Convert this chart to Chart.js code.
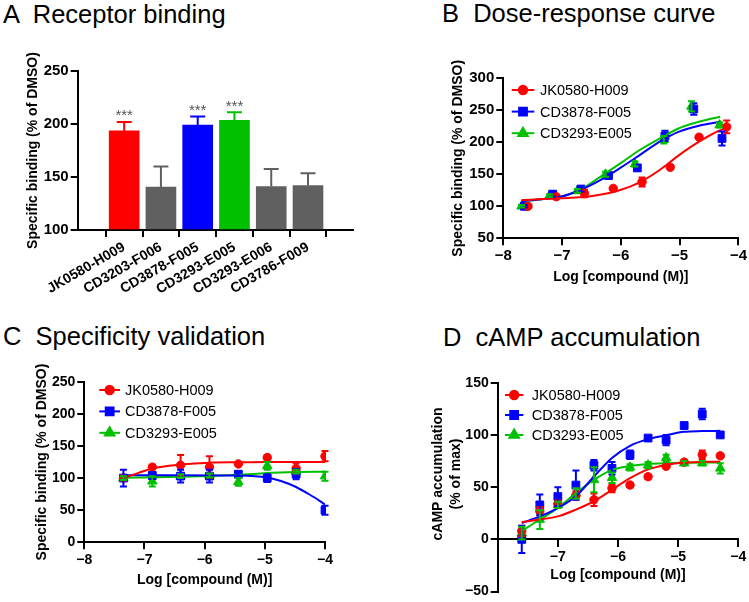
<!DOCTYPE html>
<html><head><meta charset="utf-8">
<script src="https://cdn.jsdelivr.net/npm/chart.js@4.4.1/dist/chart.umd.min.js"></script>
<style>
html,body{margin:0;padding:0;background:#fff;}
body{width:749px;height:602px;position:relative;overflow:hidden;font-family:"Liberation Sans",Arial,sans-serif;}
.ttl{position:absolute;font-size:25.5px;line-height:30px;white-space:pre;color:#000;}
canvas{position:absolute;}
</style></head><body>
<div class="ttl" style="left:3px;top:-1px">A  Receptor binding</div>
<div class="ttl" style="left:442px;top:-2px">B  Dose-response curve</div>
<div class="ttl" style="left:3px;top:321px">C  Specificity validation</div>
<div class="ttl" style="left:443px;top:322px">D  cAMP accumulation</div>
<canvas id="ca" width="370" height="300" style="left:0;top:0"></canvas>
<canvas id="cb" width="374" height="300" style="left:375px;top:0"></canvas>
<canvas id="cc" width="370" height="302" style="left:0;top:300px"></canvas>
<canvas id="cd" width="374" height="302" style="left:375px;top:300px"></canvas>
<script>
// ---------- DATA ----------
const seriesNames = ['JK0580-H009', 'CD3878-F005', 'CD3293-E005'];

// Panel A: receptor binding (bars, mean + SEM)
const catsA = ['JK0580-H009', 'CD3203-F006', 'CD3878-F005', 'CD3293-E005', 'CD3293-E006', 'CD3786-F009'];
const valsA = [193.5, 140.5, 199, 203.5, 141, 142];
const errA  = [8.5, 19.5, 8, 7.5, 16.5, 11.5];
const sigA  = ['***', '', '***', '***', '', ''];
const ticksA = [100, 150, 200, 250];

// Panel B: dose-response (log M, % of DMSO)
const bJkX = [-7.58, -7.10, -6.62, -6.13, -5.64, -5.16, -4.67, -4.20];
const bJkY = [100, 115, 120, 128, 138, 161, 208, 224];
const bJkErr = [2, 3, 6, 2, 7, 3, 2, 10];
const bCdX = [-7.64, -7.16, -6.68, -6.21, -5.72, -5.25, -4.76, -4.28];
const bCdY = [100, 119, 127, 148, 160, 210, 252, 206];
const bCdErr = [2, 4, 4, 4, 4, 8, 9, 11];
const bCeX = [-7.69, -7.21, -6.74, -6.26, -5.76, -5.27, -4.80, -4.32];
const bCeY = [100, 117, 124, 150, 166, 204, 256, 227];
const bCeErr = [2, 2, 3, 4, 4, 6, 8, 4];
// fitted curves
const bJkFitX = [-7.69, -7.02, -6.46, -6.01, -5.68, -5.34, -5.01, -4.67, -4.34, -4.20];
const bJkFitY = [110, 112.5, 116.6, 125.5, 137.5, 156.7, 180, 201, 217.6, 222];
const bCdFitX = [-7.69, -7.35, -7.02, -6.69, -6.35, -6.01, -5.68, -5.34, -5.01, -4.67, -4.31];
const bCdFitY = [108, 111, 115, 125.5, 141, 160, 180, 201, 216.6, 226, 232];
const bCeFitX = [-7.69, -7.35, -7.02, -6.69, -6.35, -6.01, -5.68, -5.34, -5.01, -4.67, -4.31];
const bCeFitY = [108, 111, 115, 126, 146, 167, 188, 206, 222, 232, 240];

// Panel C: specificity validation
const cX = [-7.35, -6.87, -6.40, -5.92, -5.44, -4.96, -4.48, -4.0];
const cJkY = [100, 117, 120, 117, 122, 132, 115, 134];
const cJkErr = [3, 3, 16, 17, 2, 3, 8, 8];
const cCdY = [100, 104, 103, 103, 106, 100, 106, 50];
const cCdErr = [13, 5, 10, 10, 3, 6, 8, 7];
const cCeY = [100, 95, 103, 104, 94, 119, 110, 103];
const cCeErr = [3, 8, 3, 3, 6, 6, 3, 7];
const cJkFitX = [-7.35, -7.1, -6.87, -6.4, -5.92, -5.44, -4.96, -4.0];
const cJkFitY = [100, 108, 115, 121, 124, 124.5, 125, 125];
const cCdFitX = [-7.35, -6.4, -5.44, -4.96, -4.72, -4.49, -4.25, -4.0];
const cCdFitY = [104.5, 104.5, 104, 101, 95, 86.5, 74, 59];
const cCeFitX = [-7.35, -6.4, -5.44, -4.96, -4.48, -4.0];
const cCeFitY = [100.5, 102, 105, 108, 109.5, 110];

// Panel D: cAMP accumulation
const dX = [-7.6, -7.3, -7.0, -6.7, -6.4, -6.1, -5.8, -5.5, -5.2, -4.9, -4.6, -4.3];
const dJkY = [8, 27, 34, 42, 38, 49, 52, 60, 70, 74, 81, 80];
const dJkErr = [5, 4, 3, 4, 6, 4, 2, 2, 2, 2, 4, 2];
const dCdY = [0, 33, 41, 52, 71, 68, 81, 97, 95, 109, 120, 100];
const dCdErr = [13, 10, 9, 14, 5, 6, 4, 2, 5, 2, 5, 2];
const dCeY = [6, 19, 33, 44, 57, 59, 69, 71, 78, 73, 73, 68];
const dCeErr = [6, 9, 3, 5, 12, 5, 3, 3, 3, 2, 2, 5];
const dFitX = [-7.6, -7.3, -7.0, -6.7, -6.4, -6.1, -5.8, -5.5, -5.2, -4.9, -4.6, -4.3];
const dJkFitY = [16.5, 19, 22, 28.5, 36.5, 47.5, 58.6, 67, 71.2, 73.5, 74.2, 74.4];
const dCdFitY = [15.7, 22, 30, 41.2, 60.2, 78, 89.6, 96, 99.7, 103, 103.7, 103.9];
const dCeFitY = [8, 19, 30, 44.3, 57, 66.5, 70.3, 72.2, 73, 73.4, 73.5, 73.5];

// ---------- STYLE ----------
const RED = '#ff0000', BLUE = '#0000ff', GREEN = '#00c000', GRAY = '#606060';
const barColorsA = [RED, GRAY, BLUE, GREEN, GRAY, GRAY];
const FONT = "'Liberation Sans', Arial, Helvetica, sans-serif";
Chart.defaults.font.family = FONT;
Chart.defaults.color = '#000';
const seriesStyle = [
  {color: RED, style: 'circle', r: 4.2},
  {color: BLUE, style: 'rect', r: 5.5},
  {color: GREEN, style: 'triangle', r: 5.5}
];
const fmt = v => (v < 0 ? '\u2212' + Math.abs(v) : String(v));
const pts = (xs, ys) => xs.map((x, i) => ({x: x, y: ys[i]}));

// ---------- PLUGINS ----------
const errorBarPlugin = {
  id: 'errorBars',
  afterDatasetsDraw(chart) {
    const ctx = chart.ctx, ys = chart.scales.y;
    chart.data.datasets.forEach((ds, di) => {
      if (!ds.errors) return;
      const meta = chart.getDatasetMeta(di);
      ctx.save();
      ctx.lineWidth = 2;
      meta.data.forEach((el, i) => {
        const e = ds.errors[i];
        if (!e) return;
        const v = ds.data[i].y, x = el.x;
        const yT = ys.getPixelForValue(v + e);
        const yB = ds.errUpOnly ? ys.getPixelForValue(v) : ys.getPixelForValue(v - e);
        ctx.strokeStyle = Array.isArray(ds.errColor) ? ds.errColor[i] : ds.errColor;
        ctx.beginPath();
        ctx.moveTo(x, yT); ctx.lineTo(x, yB);
        ctx.moveTo(x - ds.capHalf, yT); ctx.lineTo(x + ds.capHalf, yT);
        if (!ds.errUpOnly) { ctx.moveTo(x - ds.capHalf, yB); ctx.lineTo(x + ds.capHalf, yB); }
        ctx.stroke();
      });
      ctx.restore();
    });
  }
};

const legendPlugin = {
  id: 'customLegend',
  afterDraw(chart, args, o) {
    if (!o || !o.show) return;
    const ctx = chart.ctx;
    ctx.save();
    seriesNames.forEach((name, i) => {
      const st = seriesStyle[i];
      const y = o.y + i * o.gap;
      ctx.strokeStyle = st.color; ctx.fillStyle = st.color; ctx.lineWidth = 2;
      ctx.beginPath(); ctx.moveTo(o.x, y); ctx.lineTo(o.x + o.len, y); ctx.stroke();
      Chart.helpers.drawPoint(ctx, {pointStyle: st.style, radius: st.r, borderWidth: 1, rotation: 0}, o.x + o.len / 2, y);
      ctx.fillStyle = '#000';
      ctx.font = '14.5px ' + FONT;
      ctx.textAlign = 'left'; ctx.textBaseline = 'middle';
      ctx.fillText(name, o.textX, y + 1);
    });
    ctx.restore();
  }
};

const starPlugin = {
  id: 'stars',
  afterDatasetsDraw(chart) {
    const ctx = chart.ctx, ys = chart.scales.y, xs = chart.scales.x;
    ctx.save();
    ctx.fillStyle = '#555';
    ctx.font = '15px ' + FONT;
    ctx.textAlign = 'center'; ctx.textBaseline = 'alphabetic';
    sigA.forEach((s, i) => {
      if (!s) return;
      ctx.fillText(s, xs.getPixelForValue(i), ys.getPixelForValue(valsA[i] + errA[i]) - 1.5);
    });
    ctx.restore();
  }
};

const freeTitlePlugin = {
  id: 'freeTitle',
  afterDraw(chart, args, o) {
    if (!o || !o.lines) return;
    const ctx = chart.ctx;
    ctx.save();
    ctx.fillStyle = '#000';
    ctx.font = 'bold 14px ' + FONT;
    ctx.textAlign = 'center'; ctx.textBaseline = 'middle';
    o.lines.forEach((t, i) => {
      ctx.save();
      ctx.translate(o.xs[i], o.y);
      ctx.rotate(-Math.PI / 2);
      ctx.fillText(t, 0, 0);
      ctx.restore();
    });
    ctx.restore();
  }
};

// ---------- AXES ----------
const gridCfg = {display: true, drawOnChartArea: false, drawTicks: true, tickLength: 7, color: '#000', lineWidth: 2};
const borderCfg = {display: true, color: '#000', width: 2};
function axisTitle(text) {
  return text ? {display: true, text: text, font: {size: 14, weight: 'bold'}, color: '#000', padding: {top: 4, bottom: 4}} : {display: false};
}
function yAxis(min, max, step, title, width, size) {
  return {
    type: 'linear', position: 'left', min: min, max: max,
    ticks: {stepSize: step, font: {size: size, weight: 'bold'}, padding: 2, color: '#000', callback: v => fmt(v)},
    grid: gridCfg, border: borderCfg, title: axisTitle(title),
    afterFit: s => { s.width = width; }
  };
}
function xLogAxis(height, size, hideMin, position) {
  return {
    type: 'linear', position: position || 'bottom', min: -8, max: -4,
    ticks: {stepSize: 1, font: {size: size, weight: 'bold'}, padding: 2, color: '#000',
      callback: v => (hideMin && v === -8 ? '' : fmt(v))},
    grid: gridCfg, border: borderCfg, title: axisTitle('Log [compound (M)]'),
    afterFit: s => { s.height = height; }
  };
}

function markerSet(xs, ys, errs, k) {
  const st = seriesStyle[k];
  return {
    type: 'scatter', data: pts(xs, ys), showLine: false,
    pointStyle: st.style, pointRadius: st.r, pointHoverRadius: st.r,
    backgroundColor: st.color, borderColor: st.color, borderWidth: 1,
    errors: errs, errColor: st.color, capHalf: 3.5
  };
}
function fitSet(xs, ys, k) {
  return {
    type: 'scatter', data: pts(xs, ys), showLine: true, pointRadius: 0, pointHoverRadius: 0,
    borderColor: seriesStyle[k].color, backgroundColor: seriesStyle[k].color, borderWidth: 2,
    cubicInterpolationMode: 'monotone', fill: false
  };
}
const basePlugins = {legend: {display: false}, tooltip: {enabled: false}, title: {display: false}};

// ---------- PANEL A ----------
new Chart(document.getElementById('ca'), {
  type: 'bar',
  data: {datasets: [{
    data: catsA.map((c, i) => ({x: i, y: valsA[i]})),
    backgroundColor: barColorsA, borderWidth: 0, barThickness: 30, base: 100,
    errors: errA, errUpOnly: true, errColor: barColorsA, capHalf: 7.5
  }]},
  options: {
    responsive: false, animation: false, events: [],
    layout: {autoPadding: false, padding: {left: 20.6, right: 17, top: 71, bottom: 0}},
    scales: {
      x: {type: 'linear', min: -0.64, max: 5.6,
        afterBuildTicks: s => { s.ticks = catsA.map((c, i) => ({value: i})); },
        ticks: {autoSkip: false, maxRotation: 30, minRotation: 30, font: {size: 14, weight: 'bold'}, padding: 2, color: '#000',
          callback: v => (catsA[v] !== undefined ? catsA[v] : '')},
        grid: gridCfg, border: borderCfg,
        afterFit: s => { s.height = 70; }},
      y: Object.assign(yAxis(100, 250, 50, 'Specific binding (% of DMSO)', 57.1, 15),
        {afterBuildTicks: s => { s.ticks = ticksA.map(v => ({value: v})); }})
    },
    plugins: basePlugins
  },
  plugins: [errorBarPlugin, starPlugin]
});

// ---------- PANEL B ----------
new Chart(document.getElementById('cb'), {
  type: 'scatter',
  data: {datasets: [
    fitSet(bJkFitX, bJkFitY, 0), fitSet(bCdFitX, bCdFitY, 1), fitSet(bCeFitX, bCeFitY, 2),
    markerSet(bJkX, bJkY, bJkErr, 0), markerSet(bCdX, bCdY, bCdErr, 1), markerSet(bCeX, bCeY, bCeErr, 2)
  ]},
  options: {
    responsive: false, animation: false, events: [],
    layout: {autoPadding: false, padding: {left: 70.6, right: 7.3, top: 78.3, bottom: 10.6}},
    scales: {x: xLogAxis(51.1, 15, false), y: yAxis(50, 300, 50, 'Specific binding (% of DMSO)', 57.7, 15)},
    plugins: Object.assign({}, basePlugins, {customLegend: {show: true, x: 136.7, len: 22.6, textX: 165, y: 90, gap: 21.6}})
  },
  plugins: [errorBarPlugin, legendPlugin]
});

// ---------- PANEL C ----------
new Chart(document.getElementById('cc'), {
  type: 'scatter',
  data: {datasets: [
    fitSet(cJkFitX, cJkFitY, 0), fitSet(cCdFitX, cCdFitY, 1), fitSet(cCeFitX, cCeFitY, 2),
    markerSet(cX, cJkY, cJkErr, 0), markerSet(cX, cCdY, cCdErr, 1), markerSet(cX, cCeY, cCeErr, 2)
  ]},
  options: {
    responsive: false, animation: false, events: [],
    layout: {autoPadding: false, padding: {left: 29.3, right: 45, top: 81.7, bottom: 9.6}},
    scales: {x: xLogAxis(50.1, 14, false), y: yAxis(0, 250, 50, 'Specific binding (% of DMSO)', 55, 14)},
    plugins: Object.assign({}, basePlugins, {customLegend: {show: true, x: 99.3, len: 20.7, textX: 125, y: 90, gap: 21.4}})
  },
  plugins: [errorBarPlugin, legendPlugin]
});

// ---------- PANEL D ----------
new Chart(document.getElementById('cd'), {
  type: 'scatter',
  data: {datasets: [
    fitSet(dFitX, dJkFitY, 0), fitSet(dFitX, dCdFitY, 1), fitSet(dFitX, dCeFitY, 2),
    markerSet(dX, dJkY, dJkErr, 0), markerSet(dX, dCdY, dCdErr, 1), markerSet(dX, dCeY, dCeErr, 2)
  ]},
  options: {
    responsive: false, animation: false, events: [],
    layout: {autoPadding: false, padding: {left: 60, right: 10.7, top: 82.7, bottom: 7.7}},
    scales: {x: xLogAxis(47.7, 14, true, {y: 0}), y: yAxis(-50, 150, 50, '', 62.7, 14)},
    plugins: Object.assign({}, basePlugins,
      {customLegend: {show: true, x: 130, len: 18.3, textX: 156.7, y: 95, gap: 20},
       freeTitle: {lines: ['cAMP accumulation', '(% of max)'], xs: [63.3, 81], y: 174}})
  },
  plugins: [errorBarPlugin, legendPlugin, freeTitlePlugin]
});
</script>
</body></html>
